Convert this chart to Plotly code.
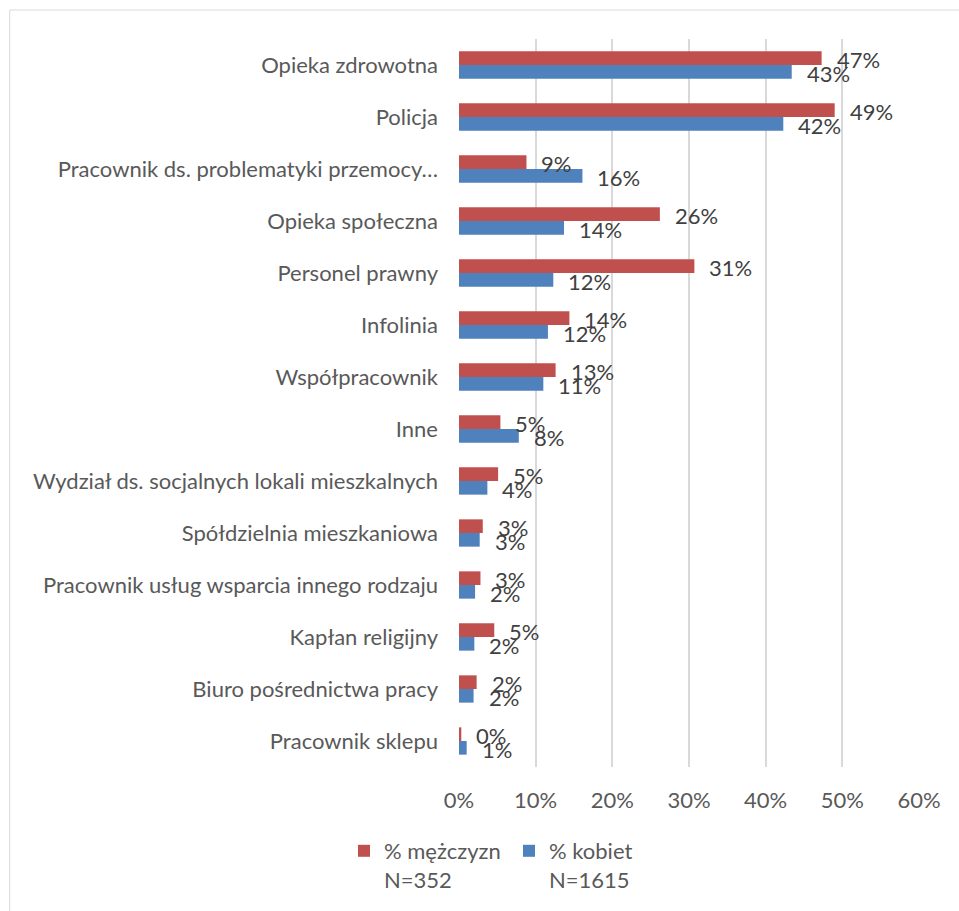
import plotly.graph_objects as go

# Categories, top to bottom
categories = [
    "Opieka zdrowotna",
    "Policja",
    "Pracownik ds. problematyki przemocy…",
    "Opieka społeczna",
    "Personel prawny",
    "Infolinia",
    "Współpracownik",
    "Inne",
    "Wydział ds. socjalnych lokali mieszkalnych",
    "Spółdzielnia mieszkaniowa",
    "Pracownik usług wsparcia innego rodzaju",
    "Kapłan religijny",
    "Biuro pośrednictwa pracy",
    "Pracownik sklepu",
]

# Share of respondents (%)
men = [47.3, 49.0, 8.8, 26.2, 30.7, 14.4, 12.6, 5.4, 5.1, 3.1, 2.8, 4.6, 2.3, 0.3]
women = [43.4, 42.3, 16.1, 13.7, 12.3, 11.6, 11.0, 7.8, 3.7, 2.7, 2.1, 2.0, 1.9, 1.0]

men_name = "% mężczyzn<br>N=352"
women_name = "% kobiet<br>N=1615"

x_ticks = [0, 10, 20, 30, 40, 50, 60]
x_tick_labels = ["0%", "10%", "20%", "30%", "40%", "50%", "60%"]

RED = "#C0504D"
BLUE = "#4F81BD"
FONT = "Lato"
W, H = 959, 911
L, R, T, B = 459.3, 39.7, 39, 144

fig = go.Figure()
fig.add_trace(go.Bar(y=categories, x=men, orientation="h", name=men_name,
                     marker=dict(color=RED, line=dict(width=0))))
fig.add_trace(go.Bar(y=categories, x=women, orientation="h", name=women_name,
                     marker=dict(color=BLUE, line=dict(width=0))))

# value labels just past the bar ends
for series, dy in ((men, 5.3), (women, -8.3)):
    for cat, v in zip(categories, series):
        fig.add_annotation(x=v, y=cat, text=f"{v:.0f}%", showarrow=False,
                           xanchor="left", yanchor="middle", xshift=13, yshift=dy,
                           font=dict(family=FONT, size=22, color="#404040"))

# outer frame of the chart area
fig.add_shape(type="rect", xref="paper", yref="paper",
              x0=(10 - L) / (W - L - R), x1=(970 - L) / (W - L - R),
              y0=-(920 - (H - B)) / (H - T - B), y1=((H - B) - 10) / (H - T - B),
              line=dict(color="#d9d9d9", width=1), fillcolor="rgba(0,0,0,0)", layer="below")

fig.update_layout(
    width=W, height=H,
    margin=dict(l=L, r=R, t=T, b=B, pad=0),
    paper_bgcolor="white", plot_bgcolor="white",
    barmode="group", bargap=0.475, bargroupgap=0,
    font=dict(family=FONT, size=22, color="#595959"),
    showlegend=True,
    legend=dict(orientation="h", xref="container", yref="container",
                x=344 / W, y=1 - 830 / H, xanchor="left", yanchor="top",
                valign="top", traceorder="normal",
                entrywidth=120, entrywidthmode="pixels",
                font=dict(family=FONT, size=22, color="#595959"),
                itemclick=False),
    xaxis=dict(range=[0, 60], tickmode="array", tickvals=x_ticks, ticktext=x_tick_labels,
               showgrid=True, gridcolor="#d9d9d9", gridwidth=1.8,
               zeroline=False, showline=False, ticks="",
               ticklabelstandoff=18,
               tickfont=dict(family=FONT, size=22, color="#595959")),
    yaxis=dict(autorange="reversed", showgrid=False, zeroline=False,
               showline=False, ticks="", ticklabelstandoff=20,
               tickfont=dict(family=FONT, size=22, color="#595959")),
)

fig.write_html("out.html")
